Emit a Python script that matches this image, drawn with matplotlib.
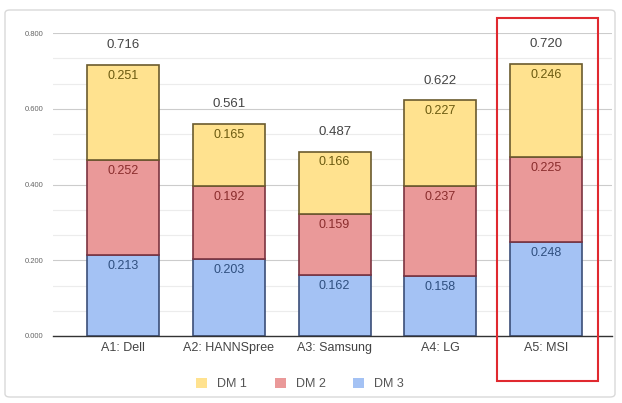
import matplotlib
matplotlib.use("Agg")
import matplotlib.pyplot as plt
from matplotlib.patches import Rectangle, FancyBboxPatch
from matplotlib.ticker import MultipleLocator
import numpy as np

categories = ["A1: Dell", "A2: HANNSpree", "A3: Samsung", "A4: LG", "A5: MSI"]
series_names = ["DM 1", "DM 2", "DM 3"]
dm3 = [0.213, 0.203, 0.162, 0.158, 0.248]
dm2 = [0.252, 0.192, 0.159, 0.237, 0.225]
dm1 = [0.251, 0.165, 0.166, 0.227, 0.246]
totals = [0.716, 0.561, 0.487, 0.622, 0.720]

plt.rcParams['font.family'] = ['Liberation Sans', 'DejaVu Sans']

fig = plt.figure(figsize=(6.22, 4.03), dpi=100)
fig.patch.set_facecolor('white')

# card border
card = FancyBboxPatch((5/622, 1-397/403), 610/622, 387/403,
                      boxstyle="round,pad=0,rounding_size=0.008",
                      transform=fig.transFigure, fill=False,
                      edgecolor='#d9d9d9', linewidth=1.0, zorder=-5)
fig.patches.append(card)

ax = fig.add_axes([53/622, 1-336/403, 559/622, 303/403])
ax.set_facecolor('none')

x = np.arange(len(categories))
w = 0.68
fills = ['#ffe28f', '#ea9999', '#a4c2f4']
edges = ['#6b5b2e', '#7b3340', '#3b4e78']
lab_cols = ['#6b5a10', '#8a2d2d', '#2f4f7f']

bottoms = np.zeros(len(categories))
stack = [(dm3, 2), (dm2, 1), (dm1, 0)]
for vals, idx in stack:
    vals = np.array(vals)
    ax.bar(x, vals, w, bottom=bottoms, color=fills[idx], edgecolor=edges[idx],
           linewidth=1.2, zorder=3)
    for xi, b, v in zip(x, bottoms, vals):
        ax.text(xi, b + v - 0.013, f"{v:.3f}", ha='center', va='top',
                fontsize=9, color=lab_cols[idx], zorder=4)
    bottoms = bottoms + vals

for xi, t in zip(x, totals):
    ax.text(xi, t + 0.036, f"{t:.3f}", ha='center', va='bottom',
            fontsize=9.5, color='#444444', zorder=4)

ax.set_ylim(0, 0.8)
ax.set_xlim(-0.66, 4.62)
ax.yaxis.set_major_locator(MultipleLocator(0.2))
ax.yaxis.set_minor_locator(MultipleLocator(0.2/3))
ax.grid(axis='y', which='major', color='#cccccc', linewidth=0.8, zorder=0)
ax.grid(axis='y', which='minor', color='#ececec', linewidth=0.8, zorder=0)
ax.set_yticks([0, 0.2, 0.4, 0.6, 0.8])
ax.set_yticklabels(["0.000", "0.200", "0.400", "0.600", "0.800"])
ax.tick_params(axis='y', which='both', length=0, labelsize=5.5, labelcolor='#666666', pad=7)
ax.set_xticks(x)
ax.set_xticklabels(categories)
ax.tick_params(axis='x', length=0, labelsize=9, labelcolor='#444444', pad=4)
for s in ['top', 'right', 'left']:
    ax.spines[s].set_visible(False)
ax.spines['bottom'].set_color('#333333')
ax.spines['bottom'].set_linewidth(1.0)
ax.spines['bottom'].set_zorder(5)

# legend
handles = [Rectangle((0, 0), 1, 1, facecolor=fills[i], edgecolor='none') for i in range(3)]
fig.legend(handles, series_names, loc='center', bbox_to_anchor=(300/622, 1-384/403),
           ncol=3, frameon=False, fontsize=9, labelcolor='#555555',
           handlelength=0.9, handleheight=0.9, columnspacing=2.2, handletextpad=0.8)

# highlight box
fig.patches.append(Rectangle((497/622, 1-381/403), 101/622, 363/403,
                             transform=fig.transFigure, fill=False,
                             edgecolor='#e0292f', linewidth=1.5, zorder=10))

fig.savefig("out.png", dpi=100)
